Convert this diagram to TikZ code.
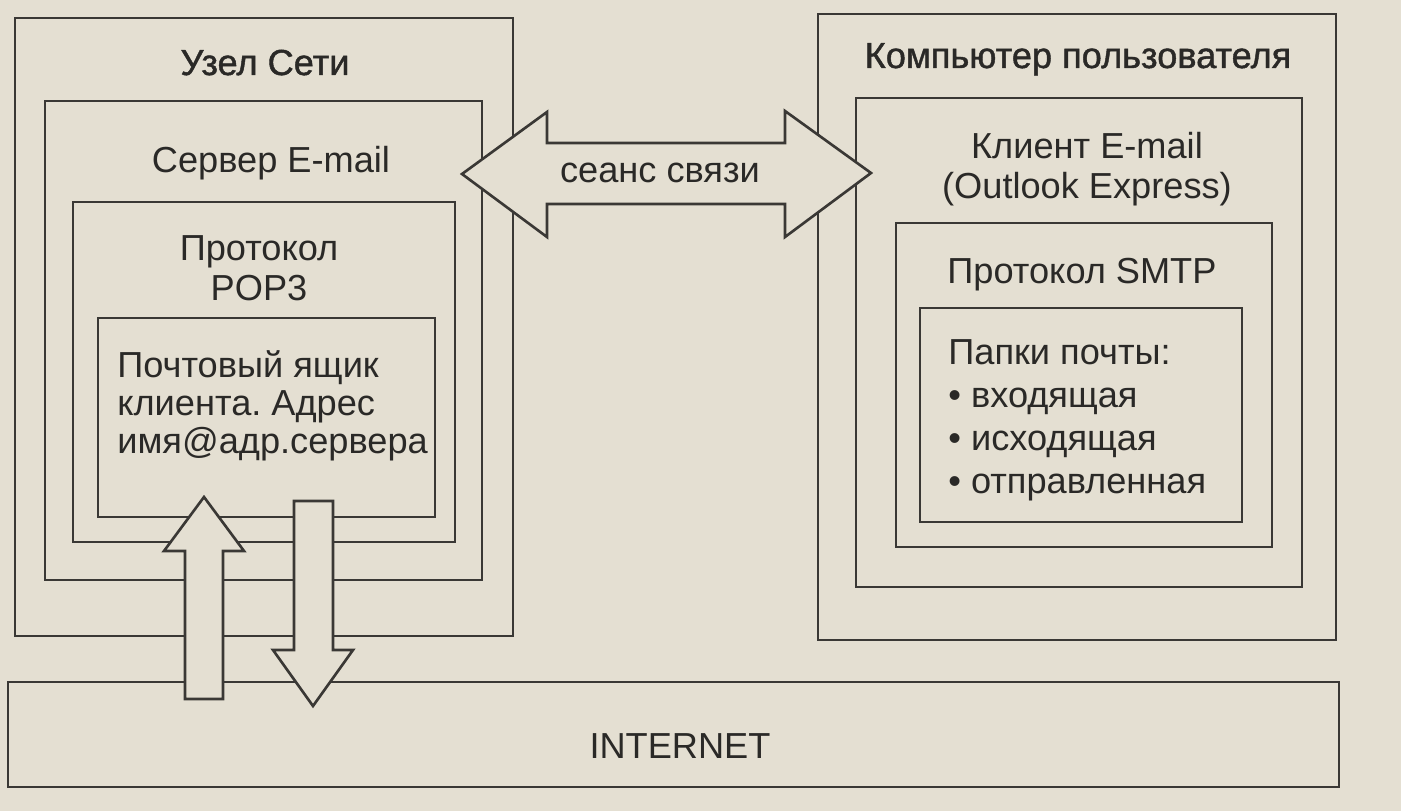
\documentclass[tikz,border=0pt]{standalone}
\usepackage{fontspec}
\setmainfont{Liberation Sans}
\newfontfamily\headfont{Liberation Sans}[FakeBold=1.2]
\usetikzlibrary{positioning}
\definecolor{Paper}{HTML}{E4DFD2}
\definecolor{Ink}{HTML}{2A2927}
\definecolor{Rule}{HTML}{3A3835}
\frenchspacing

\begin{document}
\begin{tikzpicture}[x=0.02cm,y=-0.02cm]
\tikzset{frame/.style={draw=Rule,line width=1.5pt}, txt/.style={text=Ink,inner sep=0pt,align=center,font=\fontsize{20.6}{22.7}\selectfont}, headtxt/.style={txt,font=\fontsize{20.6}{22.7}\selectfont\headfont}, blockarrow/.style={draw=Rule,line width=1.5pt,fill=Paper,line join=miter}}
\fill[Paper] (0,0) rectangle (1401,811);
\useasboundingbox (0,0) rectangle (1401,811);
% host side
\draw[frame] (15,18) rectangle (513,636);
\draw[frame] (45,101) rectangle (482,580);
\draw[frame] (73,202) rectangle (455,542);
\draw[frame] (98,318) rectangle (435,517);
% user side
\draw[frame] (818,14) rectangle (1336,640);
\draw[frame] (856,98) rectangle (1302,587);
\draw[frame] (896,223) rectangle (1272,547);
\draw[frame] (920,308) rectangle (1242,522);
% internet
\draw[frame] (8,682) rectangle (1339,787);
% arrows
\draw[blockarrow] (462,174) -- (547,112) -- (547,143) -- (785,143) -- (785,111) -- (871,173) -- (785,237) -- (785,204) -- (547,204) -- (547,237) -- cycle;
\draw[blockarrow] (204,497) -- (244,551) -- (223,551) -- (223,699) -- (185,699) -- (185,551) -- (164,551) -- cycle;
\draw[blockarrow] (294,501) -- (333,501) -- (333,650) -- (353,650) -- (313,706) -- (273,650) -- (294,650) -- cycle;
% texts
\node[headtxt,anchor=base] (host) at (265,75) {Узел Сети};
\node[txt,anchor=base] (srv) at (271,173) {Сервер E-mail};
\node[txt] (pop) at (259,268) {Протокол\\POP3};
\node[txt,align=left,anchor=west,font=\fontsize{20.6}{21.8}\selectfont] (box) at (117,406) {Почтовый ящик\\клиента. Адрес\\имя@адр.сервера};
\node[headtxt,anchor=base] (pc) at (1078,68) {Компьютер пользователя};
\node[txt] (cli) at (1087,169) {Клиент E-mail\\(Outlook Express)};
\node[txt,anchor=base] (smtp) at (1082,283) {Протокол SMTP};
\node[txt,align=left,anchor=west,font=\fontsize{20.6}{24.4}\selectfont] (fold) at (948,420) {Папки почты:\\• входящая\\• исходящая\\• отправленная};
\node[txt] (link) at (660,173) {сеанс связи};
\node[txt,anchor=base] (net) at (680,758) {INTERNET};
\end{tikzpicture}
\end{document}
